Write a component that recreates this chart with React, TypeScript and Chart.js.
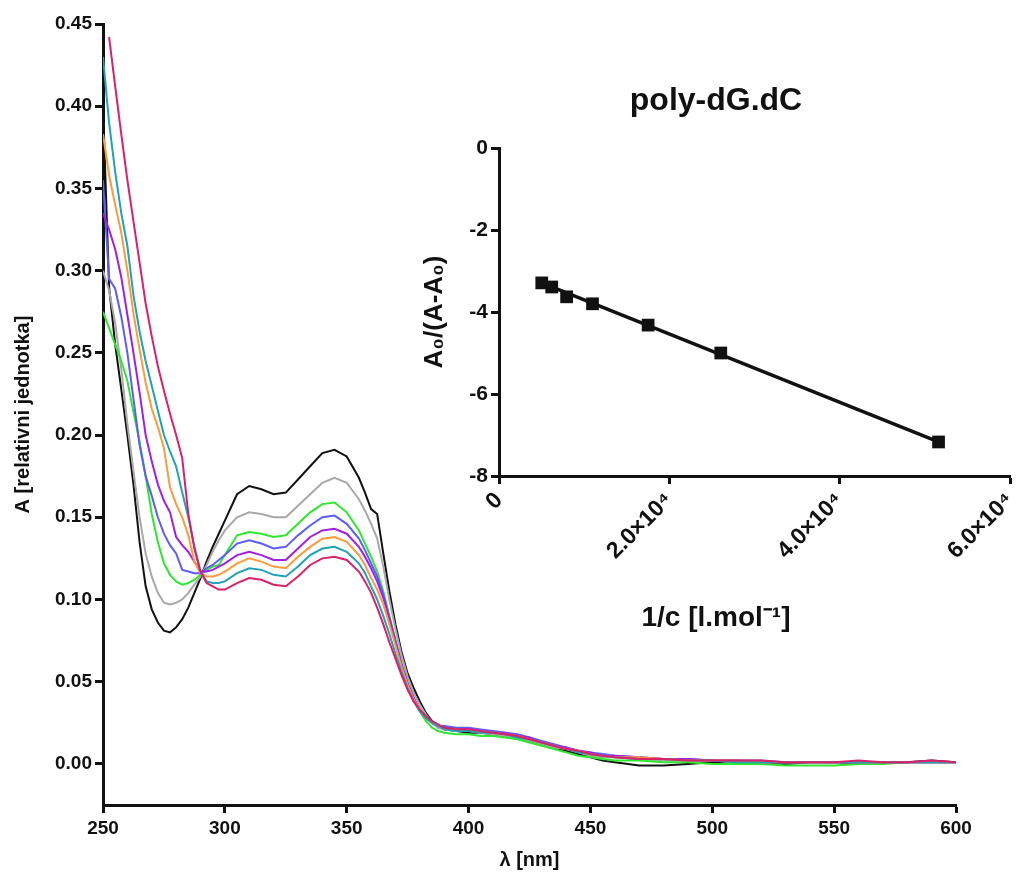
import React, { useEffect, useRef } from 'react';
import { Chart, registerables } from 'chart.js';

Chart.register(...registerables);

const FONT = "'Liberation Sans', Arial, Helvetica, sans-serif";
const INK = '#111111';

// ---- Main spectra (wavelength in nm) ----
const wavelengths = [
  250, 252.5, 255, 257.5, 260, 262.5, 265, 267.5, 270, 272.5, 275, 277.5, 280, 282.5, 285, 287.5, 290, 292.5, 295, 297.5, 300,
  305, 310, 315, 320, 325, 330, 335, 340, 345, 350, 355,
  357.5, 360, 362.5, 365, 367.5, 370, 372.5, 375, 377.5, 380, 382.5, 385, 387.5,
  390, 395, 400, 405, 410, 415, 420, 425, 430, 435, 440, 445, 450, 455, 460,
  470, 480, 490, 500, 510, 520, 530, 540, 550, 560, 570, 580, 590, 600,
];

const absBlack = [
  0.400, 0.290, 0.255, 0.228, 0.200, 0.170, 0.135, 0.108, 0.094, 0.086, 0.081, 0.080, 0.083, 0.088, 0.095, 0.104, 0.113, 0.123, 0.132, 0.140, 0.148,
  0.164, 0.169, 0.167, 0.164, 0.165, 0.173, 0.181, 0.189, 0.191, 0.187, 0.174,
  0.165, 0.155, 0.152, 0.128, 0.105, 0.085, 0.068, 0.055, 0.046, 0.038, 0.031, 0.026, 0.023,
  0.021, 0.020, 0.019, 0.019, 0.018, 0.017, 0.016, 0.014, 0.012, 0.010, 0.008, 0.006, 0.004, 0.002, 0.001,
  -0.001, -0.001, 0.000, 0.001, 0.000, 0.001, 0.000, 0.001, 0.001, 0.000, 0.001, 0.001, 0.002, 0.001,
];
const absGray = [
  0.300, 0.288, 0.268, 0.240, 0.207, 0.178, 0.150, 0.128, 0.114, 0.104, 0.098, 0.097, 0.098, 0.100, 0.104, 0.109, 0.114, 0.121, 0.129, 0.136, 0.142,
  0.150, 0.153, 0.152, 0.150, 0.150, 0.157, 0.164, 0.171, 0.174, 0.171, 0.161,
  0.154, 0.146, 0.137, 0.120, 0.100, 0.082, 0.066, 0.053, 0.043, 0.036, 0.030, 0.025, 0.022,
  0.021, 0.020, 0.020, 0.019, 0.018, 0.017, 0.016, 0.014, 0.012, 0.010, 0.009, 0.007, 0.005, 0.004, 0.004,
  0.003, 0.002, 0.002, 0.002, 0.001, 0.001, 0.001, 0.001, 0.001, 0.001, 0.001, 0.001, 0.001, 0.001,
];
const absGreen = [
  0.275, 0.265, 0.255, 0.245, 0.233, 0.214, 0.196, 0.175, 0.152, 0.135, 0.122, 0.115, 0.111, 0.109, 0.110, 0.112, 0.115, 0.118, 0.120, 0.121, 0.127,
  0.139, 0.141, 0.140, 0.138, 0.139, 0.146, 0.153, 0.158, 0.159, 0.153, 0.142,
  0.134, 0.126, 0.117, 0.105, 0.090, 0.075, 0.060, 0.048, 0.039, 0.032, 0.026, 0.022, 0.020,
  0.019, 0.018, 0.018, 0.017, 0.017, 0.016, 0.015, 0.013, 0.011, 0.009, 0.007, 0.005, 0.004, 0.003, 0.002,
  0.002, 0.001, 0.001, 0.000, 0.000, 0.000, -0.001, -0.001, -0.001, 0.000, 0.000, 0.001, 0.001, 0.001,
];
const absBlue = [
  0.355, 0.295, 0.289, 0.272, 0.250, 0.222, 0.194, 0.175, 0.163, 0.150, 0.140, 0.133, 0.128, 0.118, 0.117, 0.116, 0.116, 0.119, 0.121, 0.124, 0.127,
  0.134, 0.136, 0.134, 0.131, 0.132, 0.139, 0.145, 0.150, 0.151, 0.146, 0.137,
  0.130, 0.122, 0.114, 0.103, 0.089, 0.075, 0.061, 0.049, 0.040, 0.033, 0.028, 0.025, 0.023,
  0.023, 0.022, 0.022, 0.021, 0.020, 0.019, 0.018, 0.016, 0.014, 0.012, 0.010, 0.008, 0.007, 0.006, 0.005,
  0.004, 0.003, 0.003, 0.002, 0.002, 0.002, 0.001, 0.001, 0.001, 0.001, 0.001, 0.001, 0.001, 0.001,
];
const absPurple = [
  0.335, 0.325, 0.313, 0.296, 0.273, 0.250, 0.226, 0.200, 0.184, 0.170, 0.160, 0.153, 0.138, 0.133, 0.129, 0.123, 0.117, 0.117, 0.118, 0.120, 0.122,
  0.127, 0.129, 0.127, 0.124, 0.124, 0.131, 0.138, 0.142, 0.143, 0.140, 0.132,
  0.126, 0.119, 0.111, 0.101, 0.088, 0.074, 0.060, 0.049, 0.040, 0.033, 0.028, 0.025, 0.023,
  0.022, 0.021, 0.021, 0.020, 0.019, 0.019, 0.017, 0.016, 0.013, 0.011, 0.010, 0.008, 0.007, 0.005, 0.005,
  0.004, 0.003, 0.003, 0.002, 0.002, 0.001, 0.001, 0.001, 0.001, 0.001, 0.001, 0.001, 0.001, 0.001,
];
const absOrange = [
  0.383, 0.358, 0.340, 0.323, 0.300, 0.274, 0.252, 0.232, 0.216, 0.205, 0.192, 0.168, 0.158, 0.150, 0.139, 0.123, 0.116, 0.114, 0.114, 0.115, 0.117,
  0.122, 0.125, 0.123, 0.120, 0.119, 0.126, 0.132, 0.137, 0.138, 0.135, 0.127,
  0.121, 0.113, 0.106, 0.097, 0.085, 0.072, 0.059, 0.048, 0.039, 0.033, 0.028, 0.025, 0.023,
  0.021, 0.021, 0.020, 0.020, 0.019, 0.018, 0.017, 0.015, 0.013, 0.011, 0.009, 0.008, 0.006, 0.005, 0.004,
  0.004, 0.003, 0.002, 0.002, 0.002, 0.001, 0.001, 0.001, 0.001, 0.001, 0.001, 0.001, 0.001, 0.001,
];
const absTeal = [
  0.430, 0.390, 0.360, 0.335, 0.315, 0.285, 0.263, 0.245, 0.230, 0.215, 0.200, 0.190, 0.181, 0.165, 0.150, 0.132, 0.117, 0.111, 0.110, 0.110, 0.111,
  0.116, 0.119, 0.118, 0.115, 0.114, 0.120, 0.127, 0.131, 0.132, 0.129, 0.122,
  0.116, 0.108, 0.100, 0.090, 0.079, 0.067, 0.056, 0.046, 0.038, 0.032, 0.028, 0.025, 0.023,
  0.021, 0.020, 0.020, 0.019, 0.019, 0.018, 0.016, 0.015, 0.013, 0.011, 0.009, 0.007, 0.006, 0.005, 0.004,
  0.003, 0.003, 0.002, 0.002, 0.001, 0.001, 0.001, 0.001, 0.001, 0.001, 0.001, 0.001, 0.001, 0.001,
];
const absCrimson = [
  null, 0.442, 0.412, 0.383, 0.355, 0.330, 0.305, 0.280, 0.260, 0.242, 0.227, 0.213, 0.200, 0.186, 0.152, 0.131, 0.117, 0.110, 0.108, 0.106, 0.106,
  0.110, 0.113, 0.112, 0.109, 0.108, 0.114, 0.121, 0.125, 0.126, 0.124, 0.117,
  0.111, 0.104, 0.095, 0.085, 0.074, 0.064, 0.054, 0.045, 0.038, 0.033, 0.029, 0.026, 0.024,
  0.022, 0.021, 0.021, 0.020, 0.019, 0.018, 0.017, 0.015, 0.013, 0.011, 0.009, 0.008, 0.006, 0.005, 0.004,
  0.003, 0.003, 0.002, 0.002, 0.002, 0.002, 0.001, 0.001, 0.001, 0.002, 0.001, 0.001, 0.002, 0.001,
];

const seriesValues = [absBlack, absGray, absGreen, absBlue, absPurple, absOrange, absTeal, absCrimson];
const seriesNames = ['0', '1', '2', '3', '4', '5', '6', '7'];
const seriesColors = ['#111111', '#a8a8a8', '#2ee82e', '#5c5cff', '#a21ee6', '#ff9a3c', '#1fa3b5', '#dc1f6a'];

const mainXTicks = [250, 300, 350, 400, 450, 500, 550, 600];
const mainXTickLabels = ['250', '300', '350', '400', '450', '500', '550', '600'];
const mainYTicks = [0, 0.05, 0.1, 0.15, 0.2, 0.25, 0.3, 0.35, 0.4, 0.45];
const mainYTickLabels = ['0.00', '0.05', '0.10', '0.15', '0.20', '0.25', '0.30', '0.35', '0.40', '0.45'];

// ---- Inset (double reciprocal plot) ----
const recipConc = [5020, 6190, 7940, 10980, 17510, 26040, 51610];
const absRatio = [-3.29, -3.39, -3.63, -3.80, -4.32, -5.00, -7.17];
const fitConc = [5020, 51610];
const fitRatio = [-3.29, -7.17];
const insetXTicks = [0, 20000, 40000, 60000];
const insetXTickLabels = ['0', '2.0×10⁴', '4.0×10⁴', '6.0×10⁴'];
const insetYTicks = [-8, -6, -4, -2, 0];
const insetYTickLabels = ['-8', '-6', '-4', '-2', '0'];

const zeroPad = (s: any) => {
  s.paddingLeft = 0;
  s.paddingRight = 0;
  s.paddingTop = 0;
  s.paddingBottom = 0;
};

const axisLook = (tickLength: number) => ({
  border: { display: true, color: INK, width: 3 },
  grid: { display: true, drawOnChartArea: false, drawTicks: true, tickLength, tickWidth: 3, tickColor: INK },
});

function MainChart() {
  const ref = useRef<HTMLCanvasElement>(null);
  useEffect(() => {
    const datasets = seriesValues.map((vals, k) => ({
      label: seriesNames[k],
      data: wavelengths
        .map((w, i) => ({ x: w, y: vals[i] }))
        .filter((p) => p.y !== null),
      borderColor: seriesColors[k],
      backgroundColor: seriesColors[k],
      borderWidth: 2,
      pointRadius: 0,
      tension: 0,
      fill: false,
      order: seriesValues.length - 1 - k,
    }));
    const chart = new Chart(ref.current as HTMLCanvasElement, {
      type: 'line',
      data: { datasets },
      options: {
        responsive: false,
        animation: false,
        events: [],
        layout: { padding: { left: 0, right: 63, top: 24, bottom: 0 } },
        plugins: { legend: { display: false }, tooltip: { enabled: false } },
        scales: {
          x: {
            type: 'linear',
            min: 250,
            max: 600,
            afterBuildTicks: (s: any) => {
              s.ticks = mainXTicks.map((v) => ({ value: v }));
            },
            afterFit: (s: any) => {
              s.height = 67;
              zeroPad(s);
            },
            ...axisLook(8),
            ticks: {
              autoSkip: false,
              maxRotation: 0,
              padding: 4,
              color: INK,
              font: { family: FONT, size: 19, weight: 'bold' },
              callback: (_v: any, i: number) => mainXTickLabels[i],
            },
            title: {
              display: true,
              text: 'λ [nm]',
              color: INK,
              font: { family: FONT, size: 20, weight: 'bold' },
              padding: { top: 0, bottom: 0 },
            },
          },
          y: {
            type: 'linear',
            min: -0.025,
            max: 0.45,
            afterBuildTicks: (s: any) => {
              s.ticks = mainYTicks.map((v) => ({ value: v }));
            },
            afterFit: (s: any) => {
              s.width = 103;
              zeroPad(s);
            },
            ...axisLook(8),
            ticks: {
              autoSkip: false,
              padding: 3,
              color: INK,
              font: { family: FONT, size: 19, weight: 'bold' },
              callback: (_v: any, i: number) => mainYTickLabels[i],
            },
            title: {
              display: true,
              text: 'A [relativni jednotka]',
              color: INK,
              font: { family: FONT, size: 20, weight: 'bold' },
              padding: { top: 11, bottom: 0 },
            },
          },
        },
      } as any,
    });
    return () => chart.destroy();
  }, []);
  return (
    <div style={{ position: 'fixed', left: 0, top: 0, width: 1019, height: 872 }}>
      <canvas ref={ref} width={1019} height={872} style={{ display: 'block' }} />
    </div>
  );
}

function InsetChart() {
  const ref = useRef<HTMLCanvasElement>(null);
  useEffect(() => {
    const chart = new Chart(ref.current as HTMLCanvasElement, {
      type: 'line',
      data: {
        datasets: [
          {
            label: 'data',
            data: recipConc.map((x, i) => ({ x, y: absRatio[i] })),
            showLine: false,
            pointStyle: 'rect',
            pointRadius: 9,
            pointBackgroundColor: INK,
            pointBorderColor: INK,
            pointBorderWidth: 0,
            order: 0,
          },
          {
            label: 'fit',
            data: fitConc.map((x, i) => ({ x, y: fitRatio[i] })),
            borderColor: INK,
            borderWidth: 3.5,
            pointRadius: 0,
            tension: 0,
            order: 1,
          },
        ],
      },
      options: {
        responsive: false,
        animation: false,
        events: [],
        layout: { padding: { left: 0, right: 6, top: 0, bottom: 1.4 } },
        plugins: {
          legend: { display: false },
          tooltip: { enabled: false },
          title: {
            display: true,
            text: 'poly-dG.dC',
            color: INK,
            font: { family: FONT, size: 32, weight: 'bold' },
            padding: { top: 22, bottom: 27.6 },
          },
          subtitle: {
            display: true,
            position: 'bottom',
            text: '1/c [l.mol⁻¹]',
            color: INK,
            font: { family: FONT, size: 28, weight: 'bold' },
            padding: { top: 15, bottom: 4 },
          },
        },
        scales: {
          x: {
            type: 'linear',
            min: 0,
            max: 60000,
            afterBuildTicks: (s: any) => {
              s.ticks = insetXTicks.map((v) => ({ value: v }));
            },
            afterFit: (s: any) => {
              s.height = 110;
              zeroPad(s);
            },
            ...axisLook(8),
            ticks: {
              autoSkip: false,
              minRotation: 45,
              maxRotation: 45,
              padding: 3,
              color: INK,
              font: { family: FONT, size: 23, weight: 'bold' },
              callback: (_v: any, i: number) => insetXTickLabels[i],
            },
          },
          y: {
            type: 'linear',
            min: -8,
            max: 0,
            afterBuildTicks: (s: any) => {
              s.ticks = insetYTicks.map((v) => ({ value: v }));
            },
            afterFit: (s: any) => {
              s.width = 80;
              zeroPad(s);
            },
            ...axisLook(8),
            ticks: {
              autoSkip: false,
              padding: 3,
              color: INK,
              font: { family: FONT, size: 21, weight: 'bold' },
              callback: (_v: any, i: number) => insetYTickLabels[i],
            },
            title: {
              display: true,
              text: 'A₀/(A-A₀)',
              color: INK,
              font: { family: FONT, size: 26, weight: 'bold' },
              padding: { top: 0, bottom: 0 },
            },
          },
        },
      } as any,
    });
    return () => chart.destroy();
  }, []);
  return (
    <div style={{ position: 'fixed', left: 419, top: 60, width: 600, height: 580 }}>
      <canvas ref={ref} width={600} height={580} style={{ display: 'block' }} />
    </div>
  );
}

export default function App() {
  return (
    <>
      <MainChart />
      <InsetChart />
    </>
  );
}
